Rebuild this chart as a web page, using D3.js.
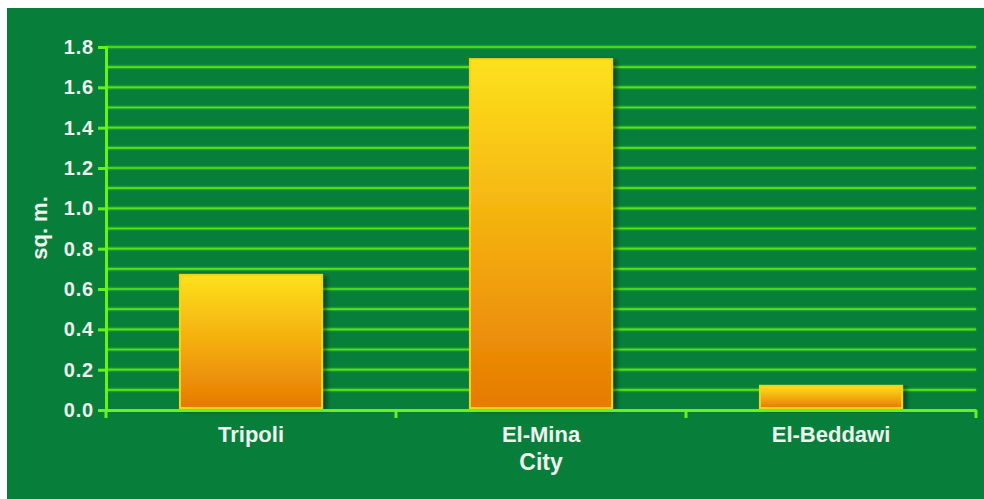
<!DOCTYPE html>
<html>
<head>
<meta charset="utf-8">
<script src="https://cdn.jsdelivr.net/npm/d3@7/dist/d3.min.js"></script>
<style>
  html, body { margin: 0; padding: 0; background: #ffffff; }
  svg { display: block; }
</style>
</head>
<body>
<svg id="chart" width="984" height="499"></svg>
<script>
// Area per resident, by city
const cities = ["Tripoli", "El-Mina", "El-Beddawi"];
const areaValues = [0.67, 1.74, 0.12];
const yTickValues = [0.0, 0.2, 0.4, 0.6, 0.8, 1.0, 1.2, 1.4, 1.6, 1.8];
const yGridValues = [0.1, 0.2, 0.3, 0.4, 0.5, 0.6, 0.7, 0.8, 0.9, 1.0, 1.1, 1.2, 1.3, 1.4, 1.5, 1.6, 1.7, 1.8];

const svg = d3.select("#chart");
const panel = { x: 7, y: 8, w: 977, h: 491 };
const plot = { left: 106, right: 976, top: 47, bottom: 410 };
const fontFamily = "'Liberation Sans', Arial, sans-serif";
const textColor = "#eef4ee";
const axisColor = "#66f21a";

const defs = svg.append("defs");
const grad = defs.append("linearGradient")
  .attr("id", "barFill").attr("x1", 0).attr("y1", 0).attr("x2", 0).attr("y2", 1);
grad.append("stop").attr("offset", "0%").attr("stop-color", "#fde11c");
grad.append("stop").attr("offset", "55%").attr("stop-color", "#f3a90e");
grad.append("stop").attr("offset", "100%").attr("stop-color", "#e67a02");

const shadow = defs.append("filter").attr("id", "barShadow")
  .attr("x", "-10%").attr("y", "-10%").attr("width", "130%").attr("height", "130%");
shadow.append("feGaussianBlur").attr("in", "SourceAlpha").attr("stdDeviation", 2.5).attr("result", "b");
shadow.append("feOffset").attr("in", "b").attr("dx", 4).attr("dy", 2).attr("result", "o");
shadow.append("feComponentTransfer").attr("in", "o").attr("result", "s")
  .append("feFuncA").attr("type", "linear").attr("slope", 0.45);
const merge = shadow.append("feMerge");
merge.append("feMergeNode").attr("in", "s");
merge.append("feMergeNode").attr("in", "SourceGraphic");

const glow = defs.append("filter").attr("id", "lineGlow")
  .attr("x", "-1%").attr("y", "-50%").attr("width", "102%").attr("height", "200%");
glow.append("feGaussianBlur").attr("in", "SourceGraphic").attr("stdDeviation", 0.8).attr("result", "g");
const gm = glow.append("feMerge");
gm.append("feMergeNode").attr("in", "g");
gm.append("feMergeNode").attr("in", "SourceGraphic");

// Green panel
svg.append("rect")
  .attr("x", panel.x).attr("y", panel.y).attr("width", panel.w).attr("height", panel.h)
  .attr("fill", "#077f3b");

const x = d3.scaleBand().domain(cities).range([plot.left, plot.right]).paddingInner(0).paddingOuter(0);
const y = d3.scaleLinear().domain([0, 1.8]).range([plot.bottom, plot.top]);

// Horizontal grid lines every 0.1
svg.append("g").attr("filter", "url(#lineGlow)")
  .selectAll("line").data(yGridValues).join("line")
  .attr("x1", plot.left).attr("x2", plot.right)
  .attr("y1", d => y(d)).attr("y2", d => y(d))
  .attr("stroke", "#55e41a").attr("stroke-width", 1.6);

// Bars
const barWidth = x.bandwidth() * 0.49;
svg.append("g").selectAll("rect").data(cities).join("rect")
  .attr("x", d => x(d) + (x.bandwidth() - barWidth) / 2)
  .attr("y", (d, i) => y(areaValues[i]))
  .attr("width", barWidth)
  .attr("height", (d, i) => y(0) - y(areaValues[i]) - 2)
  .attr("fill", "url(#barFill)")
  .attr("stroke", "#f2d21e")
  .attr("stroke-width", 2)
  .attr("filter", "url(#barShadow)");

// Y axis
const yAxis = d3.axisLeft(y).tickValues(yTickValues).tickFormat(d3.format(".1f")).tickSize(8).tickPadding(4);
const gy = svg.append("g").attr("transform", `translate(${plot.left},0)`).call(yAxis);
gy.select(".domain").attr("stroke", axisColor).attr("stroke-width", 3);
gy.selectAll(".tick line").attr("stroke", axisColor).attr("stroke-width", 3);
gy.selectAll(".tick text")
  .attr("fill", textColor)
  .style("font-family", fontFamily)
  .style("font-weight", "bold")
  .style("font-size", "20px")
  .style("letter-spacing", "0.8px");

// X axis, ticks at band boundaries
const xAxis = d3.axisBottom(x).tickSize(0).tickPadding(16);
const gx = svg.append("g").attr("transform", `translate(0,${plot.bottom})`).call(xAxis);
gx.select(".domain").attr("stroke", axisColor).attr("stroke-width", 3);
gx.selectAll(".tick text")
  .attr("fill", textColor)
  .style("font-family", fontFamily)
  .style("font-weight", "bold")
  .style("font-size", "22px");
const boundaries = cities.map(c => x(c)).concat([x(cities[cities.length - 1]) + x.bandwidth()]);
gx.selectAll("line.bound").data(boundaries).join("line")
  .attr("class", "bound")
  .attr("x1", d => d).attr("x2", d => d)
  .attr("y1", 0).attr("y2", 8)
  .attr("stroke", axisColor).attr("stroke-width", 3);

// Axis titles
svg.append("text")
  .attr("x", (plot.left + plot.right) / 2).attr("y", 470)
  .attr("text-anchor", "middle")
  .attr("fill", textColor)
  .style("font-family", fontFamily)
  .style("font-weight", "bold").style("font-size", "23px")
  .text("City");

svg.append("text")
  .attr("transform", `translate(47,228) rotate(-90)`)
  .attr("text-anchor", "middle")
  .attr("fill", textColor)
  .style("font-family", fontFamily)
  .style("font-weight", "bold").style("font-size", "22px")
  .text("sq. m.");
</script>
</body>
</html>
